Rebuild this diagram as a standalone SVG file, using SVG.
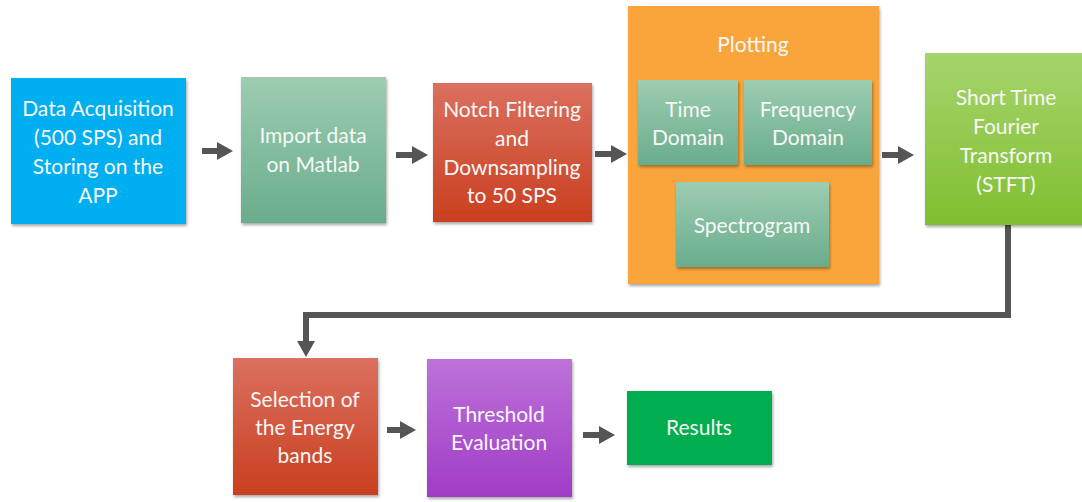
<svg xmlns="http://www.w3.org/2000/svg" width="1082" height="502" viewBox="0 0 1082 502">
  <defs>
    <linearGradient id="gTeal" x1="0" y1="0" x2="0" y2="1">
      <stop offset="0" stop-color="#9DCCB1"/>
      <stop offset="1" stop-color="#69AD8C"/>
    </linearGradient>
    <linearGradient id="gRed" x1="0" y1="0" x2="0" y2="1">
      <stop offset="0" stop-color="#DB705F"/>
      <stop offset="1" stop-color="#C93F1F"/>
    </linearGradient>
    <linearGradient id="gLime" x1="0" y1="0" x2="0" y2="1">
      <stop offset="0" stop-color="#A6D46D"/>
      <stop offset="1" stop-color="#80BF30"/>
    </linearGradient>
    <linearGradient id="gPurple" x1="0" y1="0" x2="0" y2="1">
      <stop offset="0" stop-color="#BD72D9"/>
      <stop offset="1" stop-color="#A03CC6"/>
    </linearGradient>
    <filter id="shadow" x="-10%" y="-10%" width="125%" height="125%">
      <feDropShadow dx="1" dy="2" stdDeviation="1.5" flood-color="#000" flood-opacity="0.35"/>
    </filter>
    <marker id="head" viewBox="0 0 16 18" refX="0" refY="9" markerWidth="16" markerHeight="18" markerUnits="userSpaceOnUse" orient="auto">
      <path d="M0,0 L16,9 L0,18 z" fill="#555555"/>
    </marker>
  </defs>
  <style>
    .box { filter: url(#shadow); }
    .lbl { font-family: Lato, "Noto Sans", "Liberation Sans", sans-serif; font-size: 21px; fill: #F7F7F7; text-anchor: middle; }
    .conn { fill: none; stroke: #555555; stroke-width: 6; marker-end: url(#head); }
  </style>

  <rect width="1082" height="502" fill="#FFFFFF"/>

  <!-- connectors -->
  <g id="connectors">
    <path class="conn" d="M202,151 H217"/>
    <path class="conn" d="M396,155 H412"/>
    <path class="conn" d="M595,154 H611"/>
    <path class="conn" d="M882,155 H898"/>
    <path class="conn" d="M1008,225 V315 H306 V341" stroke-linejoin="miter"/>
    <path class="conn" d="M387,430 H400"/>
    <path class="conn" d="M583,435 H599"/>
  </g>

  <g id="acquisition">
    <rect class="box" x="11" y="78" width="175" height="146" fill="#00AFEF"/>
    <text class="lbl" x="98" y="116">Data Acquisition</text>
    <text class="lbl" x="98" y="145">(500 SPS) and</text>
    <text class="lbl" x="98" y="174">Storing on the</text>
    <text class="lbl" x="98" y="203">APP</text>
  </g>

  <g id="import">
    <rect class="box" x="241" y="77" width="145" height="146" fill="url(#gTeal)"/>
    <text class="lbl" x="313" y="143">Import data</text>
    <text class="lbl" x="313" y="172">on Matlab</text>
  </g>

  <g id="filtering">
    <rect class="box" x="433" y="83" width="159" height="139" fill="url(#gRed)"/>
    <text class="lbl" x="512" y="117">Notch Filtering</text>
    <text class="lbl" x="512" y="146">and</text>
    <text class="lbl" x="512" y="175">Downsampling</text>
    <text class="lbl" x="512" y="203">to 50 SPS</text>
  </g>

  <g id="plotting">
    <rect class="box" x="628" y="6" width="251" height="278" fill="#F9A53A"/>
    <text class="lbl" x="753" y="52">Plotting</text>
  </g>

  <g id="time-domain">
    <rect class="box" x="638" y="80" width="100" height="85" fill="url(#gTeal)"/>
    <text class="lbl" x="688" y="117">Time</text>
    <text class="lbl" x="688" y="145">Domain</text>
  </g>

  <g id="frequency-domain">
    <rect class="box" x="744" y="80" width="128" height="85" fill="url(#gTeal)"/>
    <text class="lbl" x="808" y="117">Frequency</text>
    <text class="lbl" x="808" y="145">Domain</text>
  </g>

  <g id="spectrogram">
    <rect class="box" x="676" y="182" width="153" height="85" fill="url(#gTeal)"/>
    <text class="lbl" x="752" y="233">Spectrogram</text>
  </g>

  <g id="stft">
    <rect class="box" x="925" y="53" width="162" height="172" fill="url(#gLime)"/>
    <text class="lbl" x="1006" y="105">Short Time</text>
    <text class="lbl" x="1006" y="134">Fourier</text>
    <text class="lbl" x="1006" y="163">Transform</text>
    <text class="lbl" x="1006" y="192">(STFT)</text>
  </g>

  <g id="energy-bands">
    <rect class="box" x="233" y="358" width="145" height="137" fill="url(#gRed)"/>
    <text class="lbl" x="305" y="407">Selection of</text>
    <text class="lbl" x="305" y="435">the Energy</text>
    <text class="lbl" x="305" y="463">bands</text>
  </g>

  <g id="threshold">
    <rect class="box" x="427" y="359" width="145" height="138" fill="url(#gPurple)"/>
    <text class="lbl" x="499" y="422">Threshold</text>
    <text class="lbl" x="499" y="450">Evaluation</text>
  </g>

  <g id="results">
    <rect class="box" x="627" y="391" width="145" height="74" fill="#00AE4F"/>
    <text class="lbl" x="699" y="435">Results</text>
  </g>
</svg>
